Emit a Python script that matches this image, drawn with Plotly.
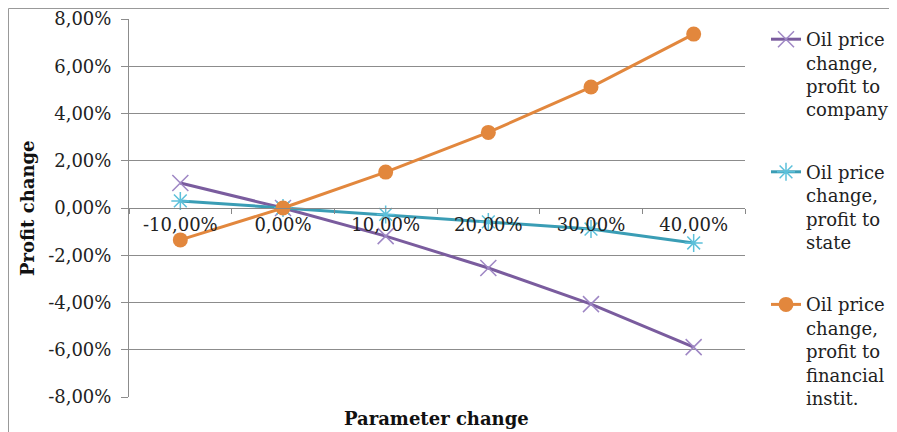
import plotly.graph_objects as go

categories = ["-10,00%", "0,00%", "10,00%", "20,00%", "30,00%", "40,00%"]
company = [1.06, 0.0, -1.19, -2.54, -4.07, -5.89]
state = [0.30, 0.0, -0.27, -0.59, -0.89, -1.48]
financial = [-1.35, 0.0, 1.52, 3.20, 5.12, 7.36]
names = ["Oil price<br>change,<br>profit to<br>company",
         "Oil price<br>change,<br>profit to<br>state",
         "Oil price<br>change,<br>profit to<br>financial<br>instit."]
y_ticks = [-8, -6, -4, -2, 0, 2, 4, 6, 8]
y_tick_text = ["-8,00%", "-6,00%", "-4,00%", "-2,00%", "0,00%", "2,00%", "4,00%", "6,00%", "8,00%"]

# the page body has an 8px margin, so the figure is drawn from (8, 8)
OFF = 8
W, H = 897 - OFF, 432 - OFF
L, R, T, B = 129 - OFF, 152, 19 - OFF, 35
pw, ph = W - L - R, H - T - B

def px2paper_x(px):
    return (px - OFF - L) / pw

def px2paper_y(py):
    return (H - B - (py - OFF)) / ph

serif = "DejaVu Serif"
fig = go.Figure()
fig.add_trace(go.Scatter(x=categories, y=company, name=names[0], mode="lines+markers",
                         legendgroup="a",
                         line=dict(color="#7A5C9E", width=3),
                         marker=dict(symbol="x-thin-open", size=16, color="#9E86C4",
                                     line=dict(width=1.5, color="#9E86C4"))))
fig.add_trace(go.Scatter(x=categories, y=state, name=names[1], mode="lines+markers",
                         legendgroup="b",
                         line=dict(color="#3A9DB5", width=3),
                         marker=dict(symbol="asterisk-open", size=15, color="#5CC0DA",
                                     line=dict(width=1.5, color="#5CC0DA"))))
fig.add_trace(go.Scatter(x=categories, y=financial, name=names[2], mode="lines+markers",
                         legendgroup="c",
                         line=dict(color="#E2873D", width=3),
                         marker=dict(symbol="circle", size=15, color="#E2873D")))

fig.update_layout(
    width=W, height=H,
    margin=dict(l=L, r=R, t=T, b=B, autoexpand=False),
    paper_bgcolor="white", plot_bgcolor="white",
    font=dict(family=serif, size=18, color="#222"),
    showlegend=True,
    legend=dict(xref="container", yref="container", x=(766 - OFF) / W, y=1 - (21 - OFF) / H,
                xanchor="left", yanchor="top", valign="top", maxheight=430,
                font=dict(family=serif, size=18, color="#222"),
                tracegroupgap=36, itemwidth=30, bgcolor="rgba(0,0,0,0)"),
    xaxis=dict(type="category", anchor="free", position=0.5, automargin=False,
               showgrid=False, showline=True, linecolor="#888", linewidth=1,
               ticks="outside", ticklen=5, tickcolor="#888", tickson="boundaries",
               tickfont=dict(family=serif, size=18, color="#222"),
               range=[-0.5, 5.5]),
    yaxis=dict(range=[-8, 8], tickvals=y_ticks, ticktext=y_tick_text, automargin=False,
               showgrid=True, gridcolor="#8c8c8c", gridwidth=1,
               showline=True, linecolor="#8c8c8c", linewidth=1,
               ticks="outside", ticklen=7, tickcolor="#8c8c8c",
               ticklabelstandoff=6, zeroline=False,
               tickfont=dict(family=serif, size=18, color="#222")),
    annotations=[
        dict(text="<b>Profit change</b>", textangle=-90, xref="paper", yref="paper",
             x=px2paper_x(27), y=0.5, xanchor="center", yanchor="middle", showarrow=False,
             font=dict(family=serif, size=18, color="#111")),
        dict(text="<b>Parameter change</b>", xref="paper", yref="paper",
             x=px2paper_x(436), y=px2paper_y(418), xanchor="center", yanchor="middle",
             showarrow=False,
             font=dict(family=serif, size=18, color="#111")),
    ],
    shapes=[
        dict(type="line", xref="paper", yref="paper",
             x0=px2paper_x(8.5), x1=px2paper_x(8.5), y0=px2paper_y(8.5), y1=px2paper_y(440),
             line=dict(color="#999", width=1)),
        dict(type="line", xref="paper", yref="paper",
             x0=px2paper_x(8.5), x1=px2paper_x(905), y0=px2paper_y(8.5), y1=px2paper_y(8.5),
             line=dict(color="#999", width=1)),
    ],
)

fig.write_html("out.html")
